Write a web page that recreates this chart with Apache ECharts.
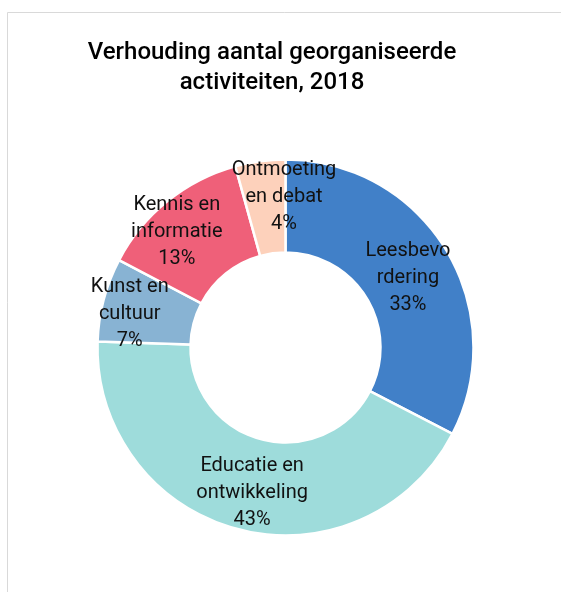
<!DOCTYPE html>
<html>
<head>
<meta charset="utf-8">
<script src="https://cdn.jsdelivr.net/npm/echarts@6/dist/echarts.min.js"></script>
<style>
html,body{margin:0;padding:0;background:#fff;}
#chart{width:561px;height:592px;}
</style>
</head>
<body>
<div id="chart"></div>
<script>
const titleText = "Verhouding aantal georganiseerde\nactiviteiten, 2018";
const categories = ["Leesbevordering", "Educatie en ontwikkeling", "Kunst en cultuur", "Kennis en informatie", "Ontmoeting en debat"];
const labelLines = ["Leesbevo\nrdering", "Educatie en\nontwikkeling", "Kunst en\ncultuur", "Kennis en\ninformatie", "Ontmoeting\nen debat"];
const values = [32.6, 42.9, 7.2, 13.0, 4.3];
const percentLabels = ["33%", "43%", "7%", "13%", "4%"];

const colors = ["#4180C8", "#9EDCDB", "#88B3D3", "#EF6079", "#FDD1BB"];
const labelOffsets = [[-1, 6], [3, 6], [-16, 3], [-18, -3], [18, -7]];

const chart = echarts.init(document.getElementById('chart'), null, {renderer: 'canvas'});
const font = 'Roboto, "Noto Sans", sans-serif';

const data = categories.map((c, i) => ({
  name: c,
  value: values[i],
  itemStyle: {color: colors[i]},
  label: {offset: labelOffsets[i]}
}));

chart.setOption({
  animation: false,
  backgroundColor: '#ffffff',
  graphic: [{
    type: 'rect',
    shape: {x: 7.5, y: 12.5, width: 700, height: 700},
    style: {fill: 'none', stroke: '#d9d9d9', lineWidth: 1},
    silent: true
  }],
  title: {
    text: titleText,
    left: 267,
    top: 33,
    textAlign: 'center',
    textStyle: {fontFamily: font, fontSize: 24, fontWeight: 500, color: '#000', lineHeight: 30}
  },
  series: [{
    type: 'pie',
    center: [285.5, 347.5],
    radius: [95, 188],
    startAngle: 90,
    clockwise: true,
    avoidLabelOverlap: false,
    itemStyle: {borderColor: '#ffffff', borderWidth: 2.5},
    label: {
      show: true,
      position: 'inside',
      fontFamily: font,
      fontSize: 20,
      lineHeight: 27,
      color: '#111',
      align: 'center',
      formatter: p => labelLines[p.dataIndex] + "\n" + percentLabels[p.dataIndex]
    },
    labelLine: {show: false},
    emphasis: {disabled: true},
    data: data
  }]
});
</script>
</body>
</html>
